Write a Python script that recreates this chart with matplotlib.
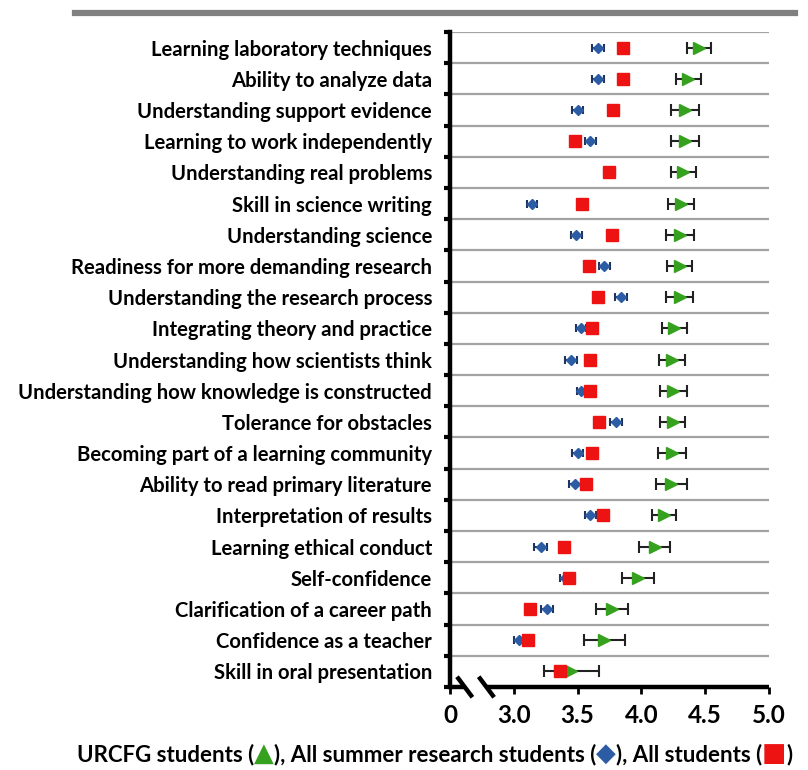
import numpy as np
import matplotlib
matplotlib.use("Agg")
import matplotlib.pyplot as plt
import matplotlib.transforms as mtransforms
from matplotlib.lines import Line2D
from matplotlib.offsetbox import TextArea, HPacker, AnchoredOffsetbox

plt.rcParams['font.family'] = ['Lato', 'DejaVu Sans']

# --- data (top row first) ---
outcomes = [
    "Learning laboratory techniques",
    "Ability to analyze data",
    "Understanding support evidence",
    "Learning to work independently",
    "Understanding real problems",
    "Skill in science writing",
    "Understanding science",
    "Readiness for more demanding research",
    "Understanding the research process",
    "Integrating theory and practice",
    "Understanding how scientists think",
    "Understanding how knowledge is constructed",
    "Tolerance for obstacles",
    "Becoming part of a learning community",
    "Ability to read primary literature",
    "Interpretation of results",
    "Learning ethical conduct",
    "Self-confidence",
    "Clarification of a career path",
    "Confidence as a teacher",
    "Skill in oral presentation",
]

urcfg_mean = [4.45, 4.37, 4.34, 4.34, 4.33, 4.31, 4.30, 4.30, 4.30, 4.26, 4.24,
              4.25, 4.245, 4.24, 4.235, 4.175, 4.105, 3.975, 3.77, 3.71, 3.45]
urcfg_err = [0.095, 0.10, 0.11, 0.11, 0.10, 0.10, 0.11, 0.10, 0.105, 0.10, 0.10,
             0.107, 0.10, 0.11, 0.12, 0.095, 0.12, 0.125, 0.125, 0.16, 0.215]

summer_mean = [3.66, 3.66, 3.50, 3.60, 3.75, 3.14, 3.49, 3.71, 3.84, 3.53, 3.45,
               3.53, 3.80, 3.50, 3.48, 3.60, 3.21, 3.40, 3.26, 3.04, 3.36]
summer_err = [0.05, 0.045, 0.045, 0.045, 0.045, 0.04, 0.045, 0.045, 0.045, 0.04, 0.045,
              0.035, 0.045, 0.045, 0.045, 0.045, 0.05, 0.035, 0.05, 0.04, 0.04]

all_mean = [3.86, 3.86, 3.78, 3.48, 3.75, 3.535, 3.77, 3.59, 3.66, 3.61, 3.60,
            3.60, 3.67, 3.61, 3.565, 3.70, 3.39, 3.43, 3.13, 3.11, 3.36]

x_ticks = [2.5, 3.0, 3.5, 4.0, 4.5, 5.0]
x_tick_labels = ["0", "3.0", "3.5", "4.0", "4.5", "5.0"]

GREEN = "#36a11e"
BLUE = "#2b5ca4"
RED = "#ee1313"

fig = plt.figure(figsize=(8.08, 7.70), dpi=100)
ax = fig.add_axes([0.557, 0.1078, 0.3945, 0.8506])

n = len(outcomes)
y = np.arange(n)

# row separators
ax.hlines(np.arange(-0.5, n - 1), 2.5, 5.0, color="#a3a3a3", lw=1.6, zorder=1)

ax.errorbar(summer_mean, y, xerr=summer_err, fmt="D", color=BLUE, ms=5.5,
            ecolor="#1d3560", elinewidth=1.5, capsize=3, capthick=1.5, zorder=3)
ax.errorbar(urcfg_mean, y, xerr=urcfg_err, fmt=">", color=GREEN, ms=9,
            ecolor="#222222", elinewidth=1.5, capsize=4, capthick=1.5, zorder=4)
ax.plot(all_mean, y, "s", color=RED, ms=9, zorder=5, linestyle="none")

ax.set_xlim(2.5, 5.0)
ax.set_ylim(n - 0.5, -0.5)

ax.set_yticks(y)
ax.set_yticklabels(outcomes, fontsize=14.6, fontweight="bold")
ax.tick_params(axis="y", which="major", length=0, pad=13)
ax.set_yticks(np.arange(-0.5, n), minor=True)
ax.tick_params(axis="y", which="minor", length=4, width=3, direction="out")

ax.set_xticks(x_ticks)
ax.set_xticklabels(x_tick_labels, fontsize=17.5, fontweight="bold")
ax.tick_params(axis="x", length=5, width=2, direction="out", pad=7)

for s in ["top", "right", "bottom"]:
    ax.spines[s].set_visible(False)
ax.spines["left"].set_linewidth(3.2)

# broken bottom axis
trans = mtransforms.blended_transform_factory(ax.transData, ax.transAxes)
ax.plot([2.5, 2.62], [0, 0], color="black", lw=3.2, transform=trans, clip_on=False,
        solid_capstyle="butt")
ax.plot([2.78, 5.0], [0, 0], color="black", lw=3.2, transform=trans, clip_on=False,
        solid_capstyle="butt")
for xb in (2.615, 2.785):
    ax.plot([xb - 0.05, xb + 0.05], [0.013, -0.013], color="black", lw=3.2,
            transform=trans, clip_on=False)

# thick gray rule at top
fig.add_artist(Line2D([75 / 808, 795 / 808], [1 - 13 / 770] * 2, lw=4.5, color="#808080"))

# legend line with coloured symbols
pieces = [
    ("URCFG students (", "black", 16),
    ("\u25B2", GREEN, 18.5),
    ("), All summer research students (", "black", 16),
    ("\u25C6", BLUE, 18.5),
    ("), All students (", "black", 16),
    ("\u25A0", RED, 18.5),
    (")", "black", 16),
]
areas = [TextArea(t, textprops=dict(color=c, fontsize=fs, fontweight="bold",
                                    family=["Lato", "DejaVu Sans"]))
         for t, c, fs in pieces]
box = HPacker(children=areas, align="baseline", pad=0, sep=0)
anchored = AnchoredOffsetbox(loc="center", child=box, frameon=False,
                             bbox_to_anchor=(0.538, 0.022),
                             bbox_transform=fig.transFigure, borderpad=0)
fig.add_artist(anchored)

fig.savefig("out.png", dpi=100)
